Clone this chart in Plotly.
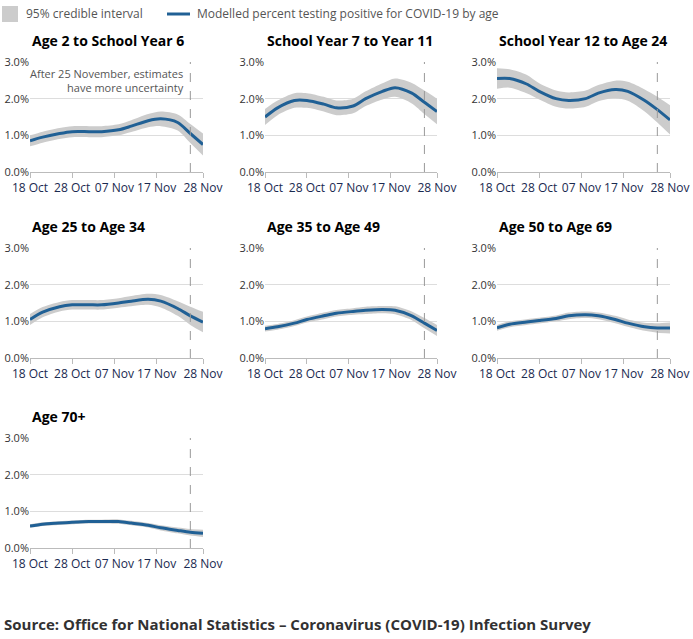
import plotly.graph_objects as go
import pandas as pd

W, H = 693, 639
def px(x): return x / W
def py(y): return 1 - y / H

day_offsets = [0, 3, 7, 10, 14, 17, 21, 24, 28, 31, 35, 38, 41]
dates = [pd.Timestamp("2020-10-18") + pd.Timedelta(days=d) for d in day_offsets]

titles = ["Age 2 to School Year 6", "School Year 7 to Year 11", "School Year 12 to Age 24",
          "Age 25 to Age 34", "Age 35 to Age 49", "Age 50 to Age 69", "Age 70+"]
central = [
    [0.85, 0.95, 1.05, 1.1, 1.1, 1.1, 1.15, 1.25, 1.4, 1.45, 1.35, 1.05, 0.75],
    [1.5, 1.75, 1.95, 1.95, 1.85, 1.75, 1.8, 2.0, 2.2, 2.3, 2.15, 1.9, 1.65],
    [2.55, 2.55, 2.4, 2.2, 2.0, 1.95, 2.0, 2.15, 2.25, 2.2, 1.95, 1.7, 1.42],
    [1.05, 1.25, 1.4, 1.45, 1.45, 1.45, 1.5, 1.55, 1.6, 1.55, 1.35, 1.15, 0.98],
    [0.8, 0.85, 0.95, 1.05, 1.15, 1.22, 1.27, 1.3, 1.32, 1.3, 1.15, 0.95, 0.75],
    [0.82, 0.92, 0.98, 1.02, 1.08, 1.15, 1.18, 1.15, 1.05, 0.95, 0.85, 0.82, 0.82],
    [0.6, 0.65, 0.68, 0.7, 0.72, 0.72, 0.72, 0.68, 0.62, 0.55, 0.48, 0.43, 0.4],
]
halfwidth = [
    [0.15, 0.15, 0.15, 0.15, 0.15, 0.15, 0.15, 0.16, 0.18, 0.2, 0.22, 0.26, 0.3],
    [0.22, 0.2, 0.2, 0.2, 0.2, 0.2, 0.2, 0.2, 0.22, 0.25, 0.28, 0.32, 0.35],
    [0.28, 0.25, 0.25, 0.22, 0.22, 0.22, 0.22, 0.22, 0.24, 0.26, 0.3, 0.35, 0.4],
    [0.15, 0.14, 0.13, 0.13, 0.13, 0.13, 0.13, 0.14, 0.15, 0.17, 0.2, 0.25, 0.28],
    [0.08, 0.08, 0.08, 0.08, 0.09, 0.09, 0.09, 0.1, 0.1, 0.11, 0.12, 0.14, 0.15],
    [0.08, 0.08, 0.08, 0.08, 0.08, 0.09, 0.09, 0.09, 0.1, 0.1, 0.11, 0.13, 0.15],
    [0.05, 0.05, 0.05, 0.05, 0.05, 0.05, 0.06, 0.06, 0.06, 0.07, 0.08, 0.09, 0.1],
]
xtick_vals = ["2020-10-18", "2020-10-28", "2020-11-07", "2020-11-17", "2020-11-28"]
xtick_text = ["18 Oct", "28 Oct", "07 Nov", "17 Nov", "28 Nov"]
ytick_vals = [0, 1, 2, 3]
ytick_text = ["0.0%", "1.0%", "2.0%", "3.0%"]

cols_px = [(30, 203), (265, 437), (497, 670)]
rows_px = [(62, 172), (248, 358), (438, 548)]

fig = go.Figure()
FONT = "Open Sans"
for i, name in enumerate(titles):
    r, c = divmod(i, 3)
    n = i + 1
    xa = "x" if n == 1 else f"x{n}"
    ya = "y" if n == 1 else f"y{n}"
    lo = [v - h for v, h in zip(central[i], halfwidth[i])]
    hi = [v + h for v, h in zip(central[i], halfwidth[i])]
    fig.add_trace(go.Scatter(x=dates, y=lo, mode="lines", line=dict(width=0, shape="spline", smoothing=0.8),
                             xaxis=xa, yaxis=ya, showlegend=False, hoverinfo="skip"))
    fig.add_trace(go.Scatter(x=dates, y=hi, mode="lines", line=dict(width=0, shape="spline", smoothing=0.8),
                             fill="tonexty", fillcolor="#cccccc", xaxis=xa, yaxis=ya, showlegend=False))
    fig.add_trace(go.Scatter(x=dates, y=central[i], mode="lines",
                             line=dict(color="#206095", width=3, shape="spline", smoothing=0.8),
                             xaxis=xa, yaxis=ya, showlegend=False))
    x0, x1 = cols_px[c]
    y0, y1 = rows_px[r]
    fig.update_layout(**{
        ("xaxis" if n == 1 else f"xaxis{n}"): dict(
            domain=[px(x0), px(x1)], anchor=ya, type="date", automargin=False,
            range=["2020-10-18", "2020-11-28"], tickvals=xtick_vals, ticktext=xtick_text,
            ticks="outside", ticklen=5, tickcolor="#bbbbbb", showgrid=False, tickangle=0,
            showline=True, linecolor="#bbbbbb", tickfont=dict(size=12, color="#1a2a50"),
            zeroline=False),
        ("yaxis" if n == 1 else f"yaxis{n}"): dict(
            domain=[py(y1), py(y0)], anchor=xa, range=[0, 3], automargin=False,
            tickvals=ytick_vals, ticktext=ytick_text, showgrid=True, gridcolor="#dddddd",
            zeroline=False, tickfont=dict(size=11, color="#333333"), ticklen=0),
    })
    fig.add_shape(type="line", xref=xa, yref=ya, x0="2020-11-25", x1="2020-11-25", y0=0, y1=3,
                  line=dict(color="#999999", width=1, dash="dash"))
    fig.add_annotation(text=f"<b>{name}</b>", xref="paper", yref="paper",
                       x=px(x0), y=py(y0 - 10), xanchor="left", yanchor="bottom",
                       showarrow=False, font=dict(size=14, color="#000000"))

fig.add_annotation(text="After 25 November, estimates<br>have more uncertainty", xref="x", yref="y",
                   x="2020-11-24", y=2.95, xanchor="right", yanchor="top", align="right",
                   showarrow=False, font=dict(size=11, color="#555555"))
# legend
fig.add_shape(type="rect", xref="paper", yref="paper", x0=px(2), x1=px(18),
              y0=py(22), y1=py(6), fillcolor="#cccccc", line=dict(width=0))
fig.add_annotation(text="95% credible interval", xref="paper", yref="paper", x=px(24), y=py(14),
                   xanchor="left", yanchor="middle", showarrow=False,
                   font=dict(size=12, color="#555555"))
fig.add_shape(type="line", xref="paper", yref="paper", x0=px(167), x1=px(190),
              y0=py(14), y1=py(14), line=dict(color="#206095", width=3))
fig.add_annotation(text="Modelled percent testing positive for COVID-19 by age", xref="paper",
                   yref="paper", x=px(195), y=py(14), xanchor="left", yanchor="middle",
                   showarrow=False, font=dict(size=12, color="#555555"))
fig.add_annotation(text="<b>Source: Office for National Statistics – Coronavirus (COVID-19) Infection Survey</b>",
                   xref="paper", yref="paper", x=px(2), y=py(624), xanchor="left", yanchor="middle",
                   showarrow=False, font=dict(size=15, color="#323132"))

fig.update_layout(width=W, height=H, margin=dict(l=0, r=0, t=0, b=0),
                  plot_bgcolor="white", paper_bgcolor="white", font=dict(family=FONT))
fig.write_html("out.html", config={"displayModeBar": False},
               post_script="document.body.style.margin='0';document.body.style.overflow='hidden';")
